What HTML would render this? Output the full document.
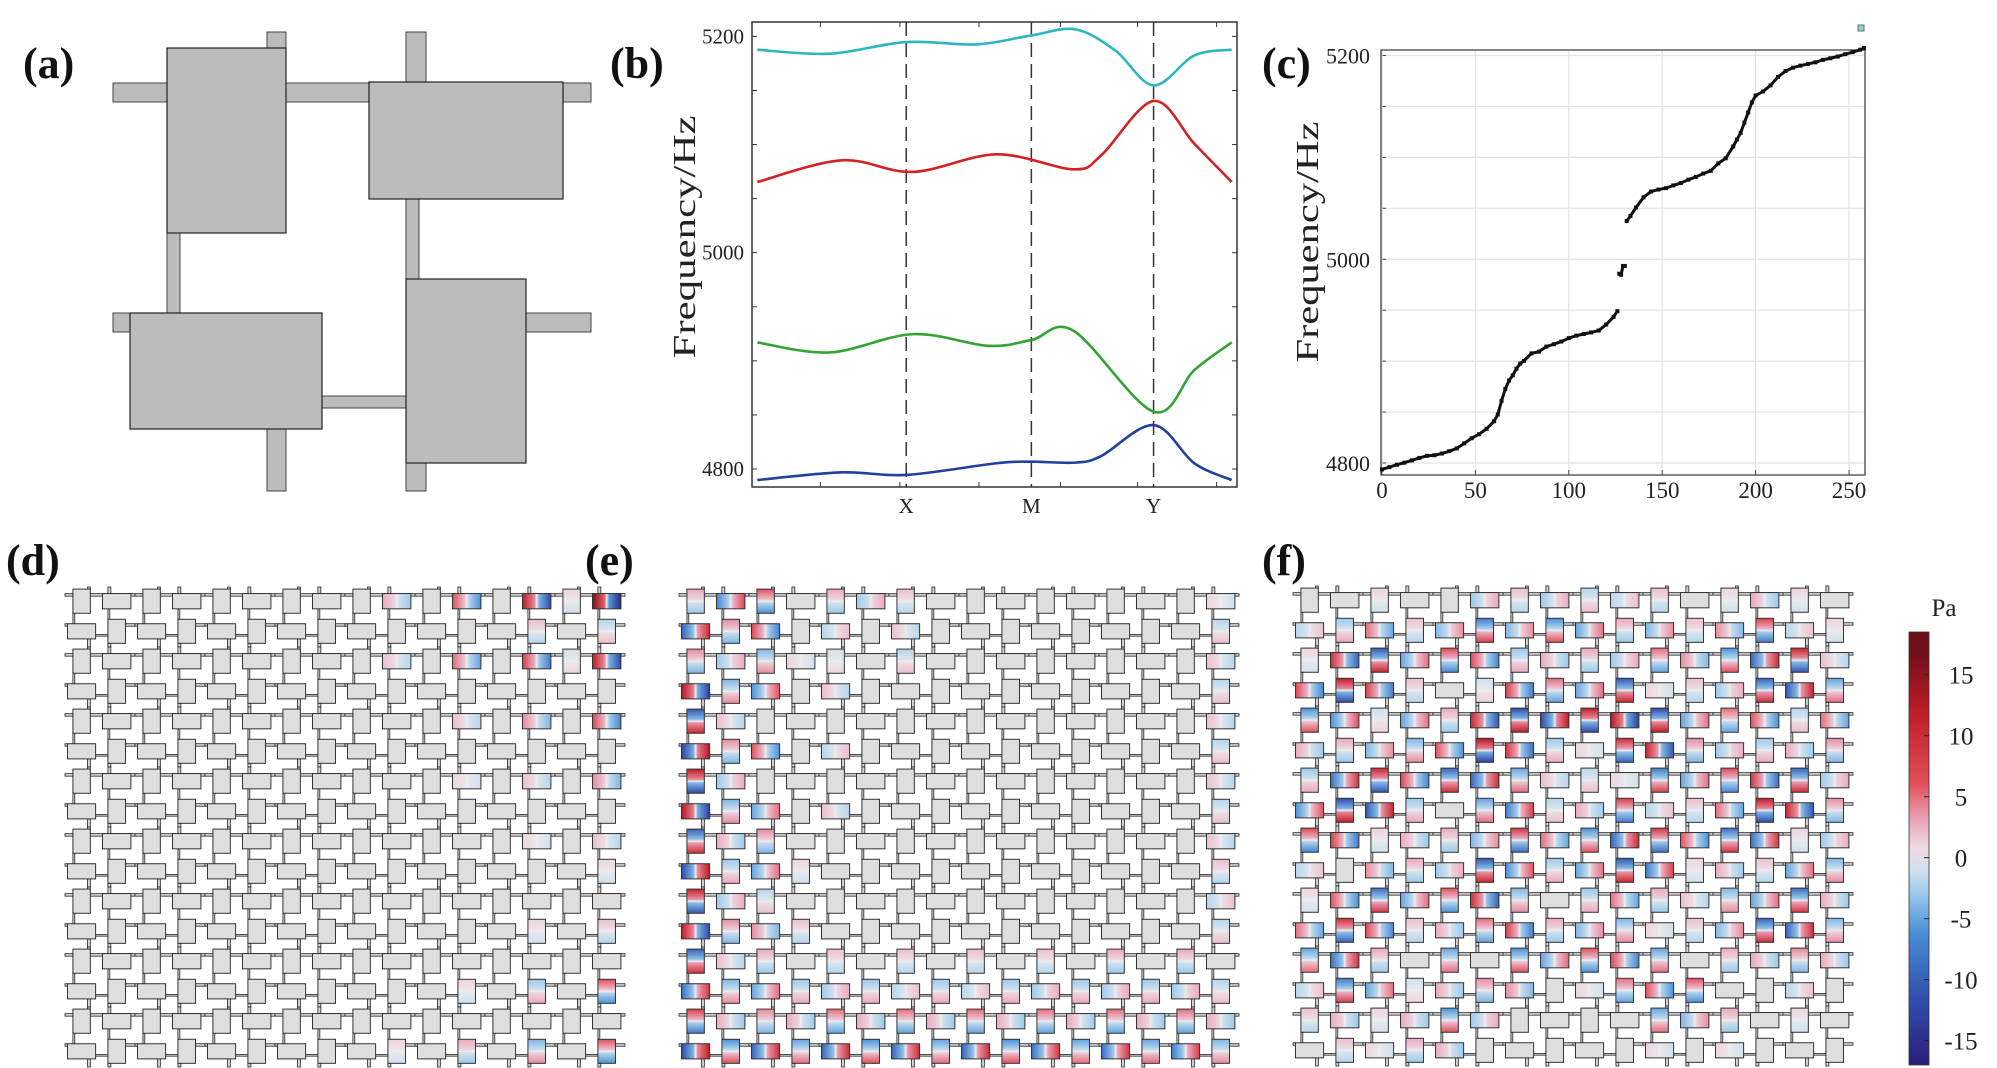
<!DOCTYPE html>
<html><head><meta charset="utf-8"><style>
html,body{margin:0;padding:0;background:#fff}
svg{display:block}
text{font-family:"Liberation Serif",serif}
</style></head><body>
<svg id="fig" xmlns="http://www.w3.org/2000/svg" width="1997" height="1068" viewBox="0 0 1997 1068">
<defs id="defs"></defs>
<g id="labels" font-weight="bold" font-size="44" fill="#111">
<text x="23" y="78">(a)</text>
<text x="610" y="78">(b)</text>
<text x="1262" y="78">(c)</text>
<text x="6" y="575">(d)</text>
<text x="585" y="575">(e)</text>
<text x="1262" y="575">(f)</text>
</g>
<g id="pa"></g>
<g id="pb"></g>
<g id="pc"></g>
<g id="pd"></g>
<g id="pe"></g>
<g id="pf"></g>
<g id="cb"></g>
</svg>
<script>
// ---------- Panel b data ----------
var bandK = {
  cyan:  [0.011,0.161,0.318,0.463,0.576,0.667,0.749,0.828,0.912,0.989],
  red:   [0.011,0.185,0.332,0.504,0.663,0.720,0.828,0.912,0.989],
  green: [0.011,0.161,0.332,0.487,0.576,0.663,0.828,0.912,0.989],
  blue:  [0.011,0.185,0.318,0.504,0.576,0.667,0.720,0.828,0.912,0.989]
};
var bandCyan  = [5187.7,5184,5194.8,5192.6,5200.9,5206.5,5187,5154.7,5182.4,5187.7];
var bandRed   = [5065.4,5085.4,5074.7,5091,5077.1,5090,5140.3,5100.8,5065.4];
var bandGreen = [4917,4907.8,4924.7,4913.9,4919.2,4927.8,4853,4891.5,4917];
var bandBlue  = [4789.8,4796.9,4794.5,4805.3,4806.8,4805.9,4812,4840.6,4805.3,4789.8];
var bYTicks = [4800,5000,5200];
var bXLabels = ["X","M","Y"];
var bXPos = [0.318,0.576,0.828];

// ---------- Panel c data ----------
var cIndex = [0,4,8,12,16,20,24,28,32,36,40,44,48,52,56,60,62,64,66,68,70,72,74,76,80,84,88,92,96,100,104,108,112,116,120,124,126,127,128,129,130,131,133,136,140,144,148,152,156,160,164,168,172,176,180,184,188,190,192,194,196,198,200,204,208,212,216,220,224,228,232,236,240,244,248,252,256,258];
var cFreq = [4793.7,4796,4798.3,4800.3,4802.6,4805,4807,4807.6,4809.3,4811.6,4814.3,4819.3,4824.3,4828.3,4833.6,4841,4847.6,4861,4872.6,4881,4886,4892.6,4897.6,4900.3,4907.6,4909.3,4914.3,4916.6,4919.2,4922.6,4925,4926.6,4928.2,4930,4935.9,4943.5,4949,4985.8,4984.8,4993.4,4993.4,5037.5,5042.5,5050.8,5060.8,5066.5,5068.4,5069.8,5072.5,5074.8,5078.1,5080.8,5084.1,5086.8,5094.1,5099.1,5110.7,5117.4,5124.1,5134.1,5144,5154,5160.7,5164.7,5170.7,5179,5184.7,5188,5190,5191.7,5193.3,5195.7,5197.3,5199,5201.3,5203.3,5205.7,5207.3];
var cXTicks = [0,50,100,150,200,250];
var cYTicks = [4800,5000,5200];

// ---------- Lattice pressure amplitudes (16 rect-rows x 16 rect-cols) ----------
var ampD = [
[0,0,0,0,0,0,0,0,0,3,0,6,0,12,1,16],
[0,0,0,0,0,0,0,0,0,0,0,0,0,2,0,-2],
[0,0,0,0,0,0,0,0,0,2,0,5,0,8,-1,12],
[0,0,0,0,0,0,0,0,0,0,0,0,0,0,0,0],
[0,0,0,0,0,0,0,0,0,0,0,2,0,4,0,7],
[0,0,0,0,0,0,0,0,0,0,0,0,0,0,0,0],
[0,0,0,0,0,0,0,0,0,0,0,1,0,2,0,4],
[0,0,0,0,0,0,0,0,0,0,0,0,0,0,0,0],
[0,0,0,0,0,0,0,0,0,0,0,0,0,1,0,2],
[0,0,0,0,0,0,0,0,0,0,0,0,0,0,0,1],
[0,0,0,0,0,0,0,0,0,0,0,0,0,0,0,0],
[0,0,0,0,0,0,0,0,0,0,0,0,0,1,0,2],
[0,0,0,0,0,0,0,0,0,0,0,0,0,0,0,0],
[0,0,0,0,0,0,0,0,0,0,0,1,0,-3,0,6],
[0,0,0,0,0,0,0,0,0,0,0,0,0,0,0,0],
[0,0,0,0,0,0,0,0,0,1,0,3,0,-4,0,6]
];
var ampE = [
[3,-7,6,0,3,-3,2,0,0,0,0,0,0,0,0,1],
[-10,4,7,0,-2,0,2,0,0,0,0,0,0,0,0,-2],
[4,-3,-4,1,-1,0,-2,0,0,0,0,0,0,0,0,2],
[13,-4,-6,0,2,0,0,0,0,0,0,0,0,0,0,-2],
[-11,2,0,0,0,0,0,0,0,0,0,0,0,0,0,2],
[-13,4,6,0,-2,0,0,0,0,0,0,0,0,0,0,-2],
[12,-3,0,0,0,0,0,0,0,0,0,0,0,0,0,2],
[13,-4,-5,0,2,0,0,0,0,0,0,0,0,0,0,-2],
[-10,3,4,0,0,0,0,0,0,0,0,0,0,0,0,2],
[-12,-3,-5,1,0,0,0,0,0,0,0,0,0,0,0,2],
[11,-3,-2,0,0,0,0,0,0,0,0,0,0,0,0,-2],
[12,4,4,2,0,0,0,0,0,0,0,0,0,0,0,-2],
[-10,2,3,0,2,0,2,0,2,0,2,0,3,0,3,0],
[-9,-4,-5,-3,-3,-3,-2,-3,-2,-3,-3,-3,-3,-3,-3,-2],
[8,3,4,3,5,3,5,3,5,3,5,3,5,3,5,3],
[-12,-6,-10,-5,-10,-6,-10,-5,-10,-6,-9,-5,-9,-5,-8,-4]
];
var ampF = [
[0,0,1,0,0,-3,2,-3,-2,-2,2,0,1,3,1,0],
[-2,-3,5,2,-4,-8,-4,-6,-5,3,-4,2,4,8,-2,1],
[1,10,-11,-5,7,7,-3,3,3,-3,5,4,-6,-10,11,2],
[7,12,8,2,0,-1,8,5,-5,-11,1,2,-3,-10,-11,-5],
[-6,-6,-1,-5,3,11,-12,-12,12,13,-12,-5,5,6,-2,5],
[3,3,-4,-4,6,13,9,-3,1,10,11,4,-3,-3,3,4],
[-3,-9,11,7,-10,-10,-5,2,-2,1,-8,-5,7,9,-10,-3],
[-6,-12,-11,-3,0,-5,-8,-2,3,8,-2,2,5,12,11,4],
[7,8,1,3,3,-4,9,5,-6,-10,9,6,-9,-9,1,-3],
[-2,0,4,3,-3,-11,-6,-3,-5,-11,-8,1,3,2,-5,-4],
[1,6,-9,-5,6,10,-4,0,-3,5,3,2,-4,-5,-9,3],
[5,10,7,2,3,5,8,3,-4,-4,1,2,-4,-10,-10,-4],
[-5,-9,3,0,-5,0,-6,-5,6,7,-5,0,3,3,4,3],
[-2,-8,-5,-1,3,4,4,0,1,5,6,6,0,0,-2,0],
[2,3,1,3,-6,-3,0,0,0,0,-5,-4,3,0,1,0],
[0,2,1,3,3,0,0,0,0,0,1,0,1,0,0,0]
];
var cbTicks = [15,10,5,0,-5,-10,-15];

// ---------- helpers ----------
var NS = "http://www.w3.org/2000/svg";
function mk(tag, attrs, parent){
  var e = document.createElementNS(NS, tag);
  for (var k in attrs) e.setAttribute(k, attrs[k]);
  if (parent) parent.appendChild(e);
  return e;
}
var defs = document.getElementById('defs');

var cmV = [-17,-12,-6,-3,0,3,6,12,17];
var cmC = [[42,31,122],[47,74,168],[74,144,217],[156,201,236],[236,236,238],[235,168,191],[224,80,90],[192,28,36],[107,15,26]];
function cmap(v){
  if (v <= cmV[0]) return rgb(cmC[0]);
  for (var i = 0; i < cmV.length-1; i++){
    if (v <= cmV[i+1]){
      var t = (v-cmV[i])/(cmV[i+1]-cmV[i]);
      var a = cmC[i], b = cmC[i+1];
      return rgb([a[0]+(b[0]-a[0])*t, a[1]+(b[1]-a[1])*t, a[2]+(b[2]-a[2])*t]);
    }
  }
  return rgb(cmC[cmC.length-1]);
}
function rgb(c){ return "rgb("+Math.round(c[0])+","+Math.round(c[1])+","+Math.round(c[2])+")"; }

var CELL_W = 478, CELL_H = 459;
var cellRects = [
  [54,16,119,185,0,0,true],
  [256,50,194,117,0,1,false],
  [17,281,192,116,1,0,false],
  [293,247,120,184,1,1,true]
];
var cellBars = [
  [0,51,478,19],[154,0,19,16],[293,0,20,50],[293,167,13,80],[54,201,13,80],
  [0,281,17,19],[413,281,65,19],[209,364,84,12],[154,397,19,62],[293,431,20,28]
];

// ---------- Panel a ----------
(function(){
  var g = document.getElementById('pa');
  var ox = 113, oy = 32;
  cellBars.forEach(function(b){
    var r = mk('rect',{x:ox+b[0],y:oy+b[1],width:b[2],height:b[3],fill:'#bcbcbc',stroke:'#444','stroke-width':1},g);
    
    
  });
  cellRects.forEach(function(b){
    var r = mk('rect',{x:ox+b[0],y:oy+b[1],width:b[2],height:b[3],fill:'#bcbcbc',stroke:'#222','stroke-width':1.2},g);
    
    
  });
})();

// ---------- Panel b ----------
(function(){
  var g = document.getElementById('pb');
  var L=752,R=1237,T=22,B=487;
  function xk(k){ return L + k*(R-L); }
  function yv(v){ return 469 - (v-4800)*432.6/400; }
  bXPos.forEach(function(k,i){
    var l = mk('line',{x1:xk(k),x2:xk(k),y1:T,y2:B,stroke:'#333','stroke-width':1.5,'stroke-dasharray':'14,7'},g);
    
    
    var t = mk('text',{x:xk(k),y:513,'text-anchor':'middle','font-size':21,fill:'#222'},g);
    t.textContent = bXLabels[i];
    
    
  });
  for (var v=4800; v<=5200; v+=50){
    mk('line',{x1:L,x2:L+5,y1:yv(v),y2:yv(v),stroke:'#333','stroke-width':1},g);
    mk('line',{x1:R,x2:R-5,y1:yv(v),y2:yv(v),stroke:'#333','stroke-width':1},g);
  }
  [0.141,0.305,0.468,0.636,0.795,0.958].forEach(function(k){
    mk('line',{x1:xk(k),x2:xk(k),y1:B,y2:B-5,stroke:'#333','stroke-width':1},g);
    mk('line',{x1:xk(k),x2:xk(k),y1:T,y2:T+5,stroke:'#333','stroke-width':1},g);
  });
  bYTicks.forEach(function(v){
    var t = mk('text',{x:744,y:yv(v)+7,'text-anchor':'end','font-size':21,fill:'#222'},g);
    t.textContent = v;
    
    
  });
  var fr = mk('rect',{x:L,y:T,width:R-L,height:B-T,fill:'none',stroke:'#333','stroke-width':1.5},g);
  
  
  function smooth(ks, vs){
    var p = ks.map(function(k,i){ return [xk(k), yv(vs[i])]; });
    var d = 'M'+p[0][0]+','+p[0][1];
    for (var i=0;i<p.length-1;i++){
      var p0=p[Math.max(0,i-1)], p1=p[i], p2=p[i+1], p3=p[Math.min(p.length-1,i+2)];
      var c1=[p1[0]+(p2[0]-p0[0])/6, p1[1]+(p2[1]-p0[1])/6];
      var c2=[p2[0]-(p3[0]-p1[0])/6, p2[1]-(p3[1]-p1[1])/6];
      d += ' C'+c1[0]+','+c1[1]+' '+c2[0]+','+c2[1]+' '+p2[0]+','+p2[1];
    }
    return d;
  }
  var series = [[bandK.cyan,bandCyan,'#2db6c2','band-4-cyan'],[bandK.red,bandRed,'#d42222','band-3-red'],[bandK.green,bandGreen,'#34a234','band-2-green'],[bandK.blue,bandBlue,'#2040a0','band-1-blue']];
  series.forEach(function(s){
    var p = mk('path',{d:smooth(s[0],s[1]),fill:'none',stroke:s[2],'stroke-width':2.6},g);
    
    
  });
  var yl = mk('text',{x:0,y:0,'text-anchor':'middle','font-size':32,fill:'#222',textLength:243,lengthAdjust:'spacingAndGlyphs',transform:'translate(695,237) rotate(-90)'},g);
  yl.textContent = 'Frequency/Hz';
  
  
})();

// ---------- Panel c ----------
(function(){
  var g = document.getElementById('pc');
  var L=1381,R=1865,T=50,B=475;
  function xi(i){ return 1382 + i*467/250; }
  function yv(v){ return 463 - (v-4800)*407.5/400; }
  for (var v=4800; v<=5200; v+=50){
    mk('line',{x1:L,x2:R,y1:yv(v),y2:yv(v),stroke:'#e2e2e2','stroke-width':1.2},g);
    mk('line',{x1:L,x2:L+5,y1:yv(v),y2:yv(v),stroke:'#444','stroke-width':1},g);
  }
  cXTicks.forEach(function(i){
    mk('line',{x1:xi(i),x2:xi(i),y1:T,y2:B,stroke:'#e2e2e2','stroke-width':1.2},g);
    mk('line',{x1:xi(i),x2:xi(i),y1:B,y2:B-5,stroke:'#444','stroke-width':1},g);
    var t = mk('text',{x:xi(i),y:498,'text-anchor':'middle','font-size':23,fill:'#222'},g);
    t.textContent = i;
    
    
  });
  cYTicks.forEach(function(v){
    var t = mk('text',{x:1370,y:yv(v)+8,'text-anchor':'end','font-size':22,fill:'#222'},g);
    t.textContent = v;
    
    
  });
  var fr = mk('rect',{x:L,y:T,width:R-L,height:B-T,fill:'none',stroke:'#444','stroke-width':1.3},g);
  
  
  for (var k=0;k<cIndex.length-1;k++){
    if (Math.abs(cFreq[k+1]-cFreq[k])<20){
      var ln = mk('line',{x1:xi(cIndex[k]),y1:yv(cFreq[k]),x2:xi(cIndex[k+1]),y2:yv(cFreq[k+1]),stroke:'#111','stroke-width':3},g);
      
      
    }
  }
  cIndex.forEach(function(i,k){
    var d = mk('rect',{x:xi(i)-2,y:yv(cFreq[k])-2,width:4,height:4,fill:'#111'},g);
    
    
  });
  var sq = mk('rect',{x:1858,y:25,width:6,height:6,fill:'#9cc',stroke:'#577','stroke-width':1},g);
  
  
  var yl = mk('text',{x:0,y:0,'text-anchor':'middle','font-size':32,fill:'#222',textLength:241,lengthAdjust:'spacingAndGlyphs',transform:'translate(1318,242) rotate(-90)'},g);
  yl.textContent = 'Frequency/Hz';
  
  
})();

// ---------- Lattices ----------
var gradId = 0;
function lattice(gid, ox, oy, amp){
  var g = document.getElementById(gid);
  var sx = 70/CELL_W, sy = 60/CELL_H;
  for (var ci=0; ci<8; ci++){
    for (var cj=0; cj<8; cj++){
      var bx = ox + cj*70, by = oy + ci*60;
      cellBars.forEach(function(b){
        var r = mk('rect',{x:bx+b[0]*sx,y:by+b[1]*sy,width:b[2]*sx,height:b[3]*sy,fill:'#d6d6d6',stroke:'#222','stroke-width':0.8},g);
        
        
      });
    }
  }
  for (var ci=0; ci<8; ci++){
    for (var cj=0; cj<8; cj++){
      var bx = ox + cj*70, by = oy + ci*60;
      cellRects.forEach(function(b){
        var rr = 2*ci + b[4], cc = 2*cj + b[5];
        var v = amp[rr][cc];
        var fill = '#dedede';
        if (v !== 0){
          var id = 'lg'+(gradId++);
          var lg = mk('linearGradient',{id:id,x1:0,y1:0,x2:b[6]?0:1,y2:b[6]?1:0},defs);
          [[0,v],[0.42,v*0.35],[0.5,0],[0.58,-v*0.35],[1,-v]].forEach(function(s){
            mk('stop',{offset:s[0],'stop-color':cmap(s[1])},lg);
          });
          fill = 'url(#'+id+')';
        }
        var r = mk('rect',{x:bx+b[0]*sx,y:by+b[1]*sy,width:b[2]*sx,height:b[3]*sy,fill:fill,stroke:'#333','stroke-width':1},g);
        
        
      });
    }
  }
}
lattice('pd', 65, 587, ampD);
lattice('pe', 679, 587, ampE);
lattice('pf', 1293, 586, ampF);

// ---------- Colorbar ----------
(function(){
  var g = document.getElementById('cb');
  var top=632, bot=1065, vTop=18.5, vBot=-17;
  function yv(v){ return top + (vTop-v)/(vTop-vBot)*(bot-top); }
  var lg = mk('linearGradient',{id:'cbgrad',x1:0,y1:0,x2:0,y2:1},defs);
  for (var s=0; s<=20; s++){
    var v = vTop - s*(vTop-vBot)/20;
    mk('stop',{offset:s/20,'stop-color':cmap(v)},lg);
  }
  var r = mk('rect',{x:1909,y:top,width:20,height:bot-top,fill:'url(#cbgrad)',stroke:'#333','stroke-width':0.8},g);
  
  
  cbTicks.forEach(function(v){
    mk('line',{x1:1924,x2:1929,y1:yv(v),y2:yv(v),stroke:'#222','stroke-width':1},g);
    var t = mk('text',{x:1961,y:yv(v)+9,'text-anchor':'middle','font-size':25,fill:'#222'},g);
    t.textContent = v;
    
    
  });
  var pa = mk('text',{x:1944,y:616,'text-anchor':'middle','font-size':25,fill:'#222'},g);
  pa.textContent = 'Pa';
  
  
})();
</script>
</body></html>
